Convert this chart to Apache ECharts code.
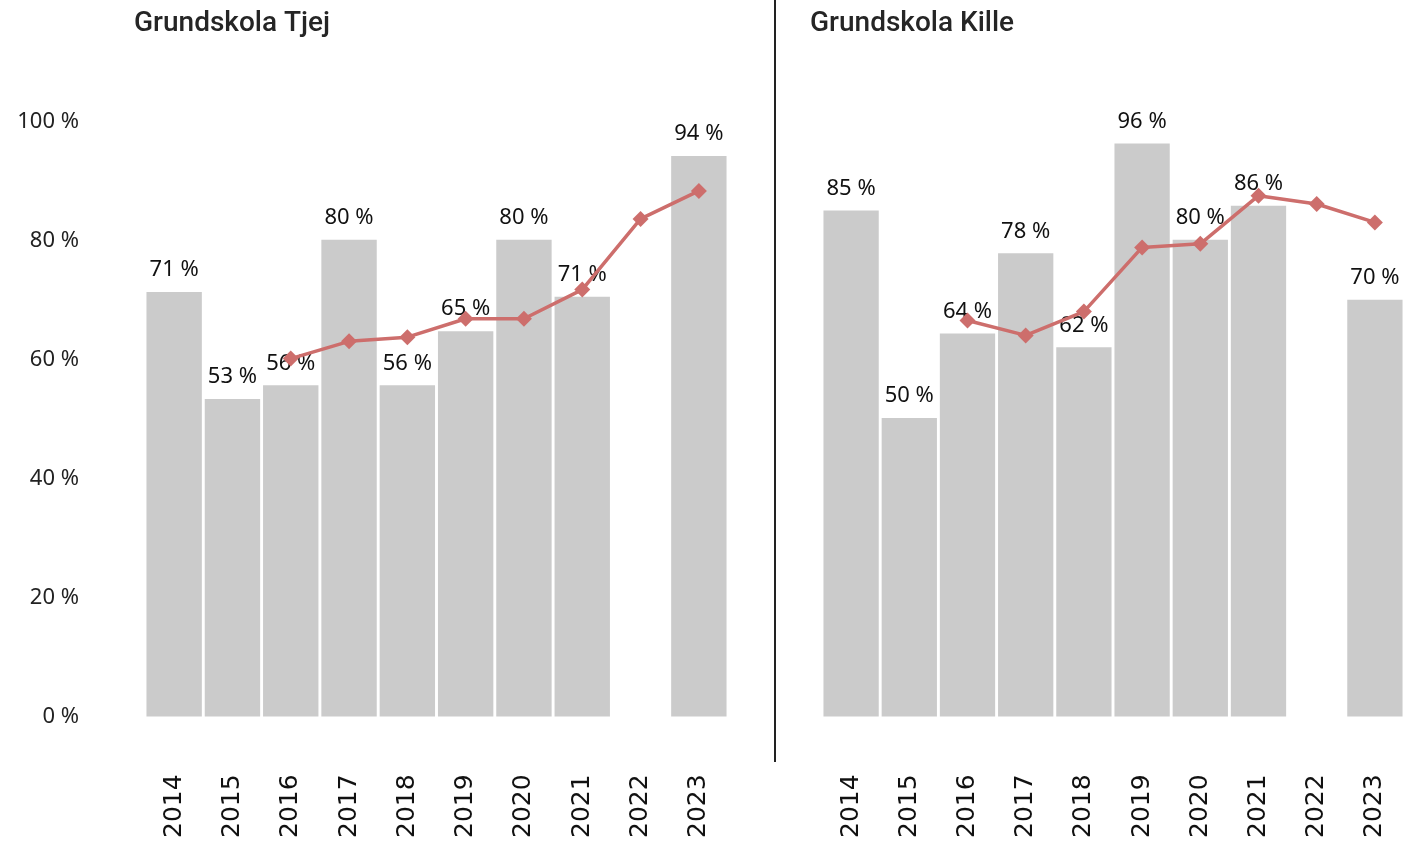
<!DOCTYPE html>
<html>
<head>
<meta charset="utf-8">
<script src="https://cdn.jsdelivr.net/npm/echarts@6/dist/echarts.min.js"></script>
<style>
  html, body { margin: 0; padding: 0; background: #fff; }
  #chartdiv { width: 1406px; height: 841px; }
</style>
</head>
<body>
<div id="chartdiv"></div>
<script>
var years = ['2014', '2015', '2016', '2017', '2018', '2019', '2020', '2021', '2022', '2023'];
var yTicks = [0, 20, 40, 60, 80, 100];

// Grundskola Tjej
var tjejBars = [71.4, 53.4, 55.7, 80.2, 55.7, 64.8, 80.2, 70.6, null, 94.3];
var tjejLine = [null, null, 60.2, 63.1, 63.8, 66.9, 66.9, 71.8, 83.7, 88.4];

// Grundskola Kille
var killeBars = [85.1, 50.2, 64.4, 77.9, 62.1, 96.4, 80.2, 85.9, null, 70.1];
var killeLine = [null, null, 66.6, 64.1, 68.1, 78.9, 79.5, 87.6, 86.2, 83.1];

var barColor = '#cbcbcb';
var lineColor = '#cd6e6c';

var chartDom = document.getElementById('chartdiv');
var plot = echarts.init(chartDom);

function pct(v) {
    return Math.round(v) + ' %';
}

function xAxisFor(idx) {
    return {
        type: 'category',
        gridIndex: idx,
        data: years,
        axisLine: { show: false },
        axisTick: { show: false },
        axisLabel: {
            rotate: 90,
            margin: 58,
            fontFamily: 'DejaVu Sans',
            fontSize: 25,
            color: '#111'
        }
    };
}

function yAxisFor(idx, showLabels) {
    return {
        type: 'value',
        gridIndex: idx,
        min: yTicks[0],
        max: yTicks[yTicks.length - 1],
        interval: 20,
        splitLine: { show: false },
        axisLine: { show: false },
        axisTick: { show: false },
        axisLabel: {
            show: showLabels,
            margin: 66,
            fontFamily: 'Noto Sans',
            fontSize: 22,
            color: '#222',
            formatter: '{value} %'
        }
    };
}

function barSeries(idx, data) {
    return {
        type: 'bar',
        xAxisIndex: idx,
        yAxisIndex: idx,
        data: data,
        barCategoryGap: '5%',
        itemStyle: { color: barColor },
        label: {
            show: true,
            position: 'top',
            distance: 11,
            fontFamily: 'Noto Sans',
            fontSize: 22,
            color: '#111',
            formatter: function(d) { return pct(d.value); }
        },
        z: 2
    };
}

function lineSeries(idx, data) {
    return {
        type: 'line',
        xAxisIndex: idx,
        yAxisIndex: idx,
        data: data,
        symbol: 'diamond',
        symbolSize: 16,
        showSymbol: true,
        lineStyle: { color: lineColor, width: 3.5 },
        itemStyle: { color: lineColor },
        z: 3
    };
}

var options = {
    animation: false,
    title: [
        {
            text: 'Grundskola Tjej',
            left: 129,
            top: 5,
            textStyle: { fontFamily: 'Roboto', fontWeight: 500, fontSize: 28, color: '#252525' }
        },
        {
            text: 'Grundskola Kille',
            left: 805,
            top: 5,
            textStyle: { fontFamily: 'Roboto', fontWeight: 500, fontSize: 28, color: '#252525' }
        }
    ],
    grid: [
        { left: 145, right: 1406 - 728, top: 122, bottom: 124 },
        { left: 822, right: 2, top: 122, bottom: 124 }
    ],
    xAxis: [ xAxisFor(0), xAxisFor(1) ],
    yAxis: [ yAxisFor(0, true), yAxisFor(1, false) ],
    graphic: [
        {
            type: 'line',
            shape: { x1: 775, y1: 0, x2: 775, y2: 762 },
            style: { stroke: '#222', lineWidth: 2 }
        }
    ],
    series: [
        barSeries(0, tjejBars),
        lineSeries(0, tjejLine),
        barSeries(1, killeBars),
        lineSeries(1, killeLine)
    ]
};

plot.setOption(options);
</script>
</body>
</html>
